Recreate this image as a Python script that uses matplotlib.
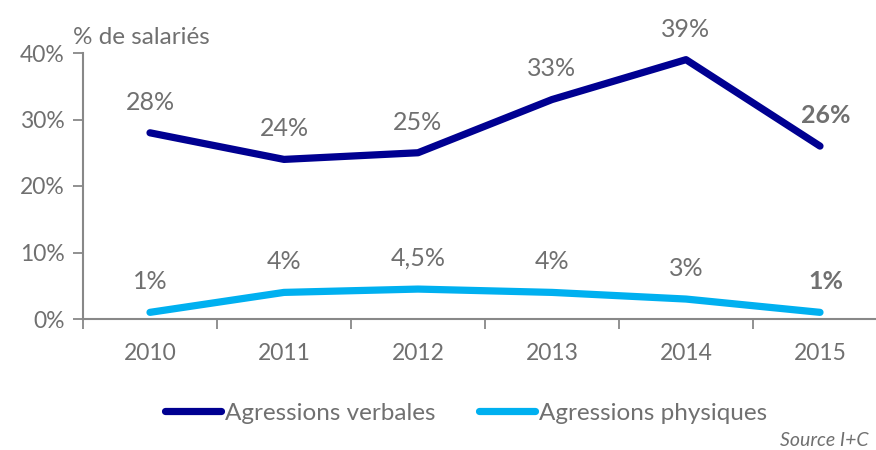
import matplotlib.pyplot as plt
import numpy as np

years = ["2010", "2011", "2012", "2013", "2014", "2015"]
verbales = [28, 24, 25, 33, 39, 26]
physiques = [1, 4, 4.5, 4, 3, 1]
labels_verbales = ["28%", "24%", "25%", "33%", "39%", "26%"]
labels_physiques = ["1%", "4%", "4,5%", "4%", "3%", "1%"]

NAVY = "#000091"
CYAN = "#00B0F0"
GREY = "#707070"
AXIS = "#888888"

plt.rcParams["font.family"] = ["Lato", "DejaVu Sans"]

fig = plt.figure(figsize=(8.76, 4.5), dpi=100)
ax = fig.add_axes([83 / 876, (450 - 319) / 450, 804 / 876, (319 - 53) / 450])

x = np.arange(len(years))
ax.plot(x, verbales, color=NAVY, lw=5.2, solid_capstyle="round", label="Agressions verbales")
ax.plot(x, physiques, color=CYAN, lw=5.2, solid_capstyle="round", label="Agressions physiques")

# value labels above each point, last year in bold
for serie, labels in ((verbales, labels_verbales), (physiques, labels_physiques)):
    for i, (v, lab) in enumerate(zip(serie, labels)):
        last = i == len(serie) - 1
        ax.annotate(lab, (x[i], v), xytext=(4 if last else 0, 22), textcoords="offset points",
                    ha="center", va="center", fontsize=18, color=GREY,
                    fontweight="bold" if last else "normal")

ax.set_xlim(-0.5, len(years) - 0.5)
ax.set_ylim(0, 40)
ax.set_yticks([0, 10, 20, 30, 40])
ax.set_yticklabels(["0%", "10%", "20%", "30%", "40%"])
ax.set_xticks(x)
ax.set_xticklabels(years)
ax.set_xticks(np.arange(-0.5, len(years)), minor=True)
ax.tick_params(axis="x", which="major", length=0, pad=17, labelsize=16.5, labelcolor=GREY)
ax.tick_params(axis="x", which="minor", length=7, width=1.3, color=AXIS, direction="out")
ax.tick_params(axis="y", length=7, width=1.3, color=AXIS, pad=6, labelsize=16.5, labelcolor=GREY)

for side in ("top", "right"):
    ax.spines[side].set_visible(False)
for side in ("left", "bottom"):
    ax.spines[side].set_color(AXIS)
    ax.spines[side].set_linewidth(1.5)

fig.text(73 / 876, 1 - 37 / 450, "% de salariés", fontsize=17.5, color=GREY, va="center", ha="left")

leg = fig.legend(loc="center", bbox_to_anchor=(466 / 876, 1 - 413 / 450), ncol=2, frameon=False,
                 fontsize=17.5, handlelength=2.3, handletextpad=0.15, columnspacing=1.8)
for t in leg.get_texts():
    t.set_color(GREY)

fig.text(868 / 876, 1 - 441 / 450, "Source I+C", fontsize=14, color=GREY,
         style="italic", ha="right", va="center")

fig.savefig("out.png", dpi=100)
